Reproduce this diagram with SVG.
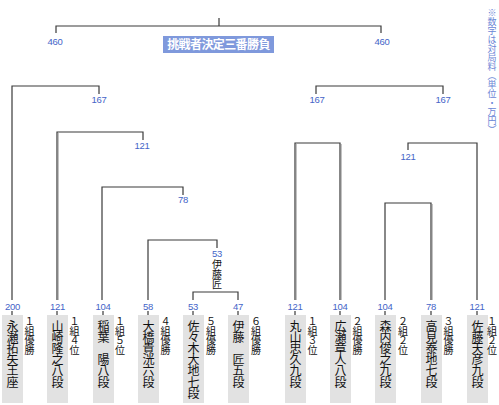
<svg xmlns="http://www.w3.org/2000/svg" width="499" height="405" viewBox="0 0 499 405">
<style>
.ln{fill:none;stroke:#3a3a3a;stroke-width:1.2}
.wn{fill:none;stroke:#858585;stroke-width:2}
.num{font-family:"Liberation Sans",Arial,sans-serif;font-size:9.5px;fill:#4464c8;text-anchor:middle;letter-spacing:-0.3px}
.box{fill:#e2e2e2}
.nm{font-family:"Noto Sans CJK JP","Noto Sans CJK SC",sans-serif;font-size:12px;fill:#111;writing-mode:vertical-rl;letter-spacing:-0.8px}
.sd{font-family:"Noto Sans CJK JP","Noto Sans CJK SC",sans-serif;font-size:10px;fill:#111;writing-mode:vertical-rl;letter-spacing:-0.3px}
.sm{font-family:"Noto Sans CJK JP","Noto Sans CJK SC",sans-serif;font-size:10px;fill:#111;writing-mode:vertical-rl;letter-spacing:0px}
.note{font-family:"Noto Sans CJK JP","Noto Sans CJK SC",sans-serif;font-size:9px;fill:#6a86d6;writing-mode:vertical-rl}
.title{font-family:"Noto Sans CJK JP","Noto Sans CJK SC",sans-serif;font-size:12px;font-weight:bold;fill:#fff;text-anchor:middle;letter-spacing:-0.6px}
</style>
<rect width="499" height="405" fill="#fff"/>
<g id="connectors">
<path class="ln" d="M219 18V26M56 33V26H381V33"/>
<path class="ln" d="M12 300V86H99V94"/>
<path class="ln" d="M57 300V132H143V140"/>
<path class="ln" d="M102 300V187H183V195"/>
<path class="ln" d="M148 300V240H217V248"/>
<path class="ln" d="M193 300V292H238V300"/>
<path class="ln" d="M316 94V86H443V94"/>
<path class="ln" d="M295 300V143H340V300"/>
<path class="ln" d="M408 150V143H477V300"/>
<path class="ln" d="M385 300V203H431V300"/>
<path class="wn" d="M57.5 133V300M295.5 144V300M340.5 144V300M431.5 204V300"/>
<path class="ln" d="M12 311V315M57 311V315M103 311V315M148 311V315M193 311V315M238 311V315M295 311V315M340 311V315M385 311V315M431 311V315M477 311V315"/>
</g>
<g id="title">
<rect x="163" y="36" width="111" height="17" fill="#7f99dc"/>
<text class="title" x="218.5" y="49">挑戦者決定三番勝負</text>
</g>
<g id="note"><text class="note" x="492" y="8">※数字は対局料（単位・万円）</text></g>
<g id="labels">
<text class="num" x="55" y="45">460</text>
<text class="num" x="382" y="45">460</text>
<text class="num" x="99" y="103">167</text>
<text class="num" x="317" y="103">167</text>
<text class="num" x="443" y="103">167</text>
<text class="num" x="142" y="149">121</text>
<text class="num" x="183" y="203">78</text>
<text class="num" x="217" y="257">53</text>
<text class="sm" x="217" y="259">伊藤匠</text>
<text class="num" x="408" y="160">121</text>
</g>
<g id="p1"><rect class="box" x="2" y="315" width="21" height="88"/><text class="num" x="12.5" y="310">200</text><text class="nm" x="12.5" y="320">永瀬拓矢王座</text><text class="sd" x="29.5" y="316">１組優勝</text></g>
<g id="p2"><rect class="box" x="47" y="315" width="21" height="88"/><text class="num" x="57.5" y="310">121</text><text class="nm" x="57.5" y="320">山崎隆之八段</text><text class="sd" x="74.5" y="316">１組４位</text></g>
<g id="p3"><rect class="box" x="93" y="315" width="21" height="88"/><text class="num" x="103" y="310">104</text><text class="nm" x="103.5" y="320">稲葉　陽八段</text><text class="sd" x="120" y="316">１組５位</text></g>
<g id="p4"><rect class="box" x="138" y="315" width="21" height="88"/><text class="num" x="148" y="310">58</text><text class="nm" x="148.5" y="320">大橋貴洸六段</text><text class="sd" x="165.5" y="316">４組優勝</text></g>
<g id="p5"><rect class="box" x="183" y="315" width="21" height="88"/><text class="num" x="193" y="310">53</text><text class="nm" x="193.5" y="320">佐々木大地七段</text><text class="sd" x="211" y="316">５組優勝</text></g>
<g id="p6"><rect class="box" x="228" y="315" width="21" height="88"/><text class="num" x="238" y="310">47</text><text class="nm" x="238.5" y="320">伊藤　匠五段</text><text class="sd" x="256" y="316">６組優勝</text></g>
<g id="p7"><rect class="box" x="285" y="315" width="21" height="88"/><text class="num" x="295" y="310">121</text><text class="nm" x="295.5" y="320">丸山忠久九段</text><text class="sd" x="312.5" y="316">１組３位</text></g>
<g id="p8"><rect class="box" x="330" y="315" width="21" height="88"/><text class="num" x="340" y="310">104</text><text class="nm" x="340.5" y="320">広瀬章人八段</text><text class="sd" x="357.5" y="316">２組優勝</text></g>
<g id="p9"><rect class="box" x="375" y="315" width="21" height="88"/><text class="num" x="385" y="310">104</text><text class="nm" x="385.5" y="320">森内俊之九段</text><text class="sd" x="403" y="316">２組２位</text></g>
<g id="p10"><rect class="box" x="421" y="315" width="21" height="88"/><text class="num" x="431" y="310">78</text><text class="nm" x="431.5" y="320">高見泰地七段</text><text class="sd" x="448.5" y="316">３組優勝</text></g>
<g id="p11"><rect class="box" x="467" y="315" width="21" height="88"/><text class="num" x="477" y="310">121</text><text class="nm" x="477.5" y="320">佐藤天彦九段</text><text class="sd" x="492" y="316">１組２位</text></g>
</svg>
